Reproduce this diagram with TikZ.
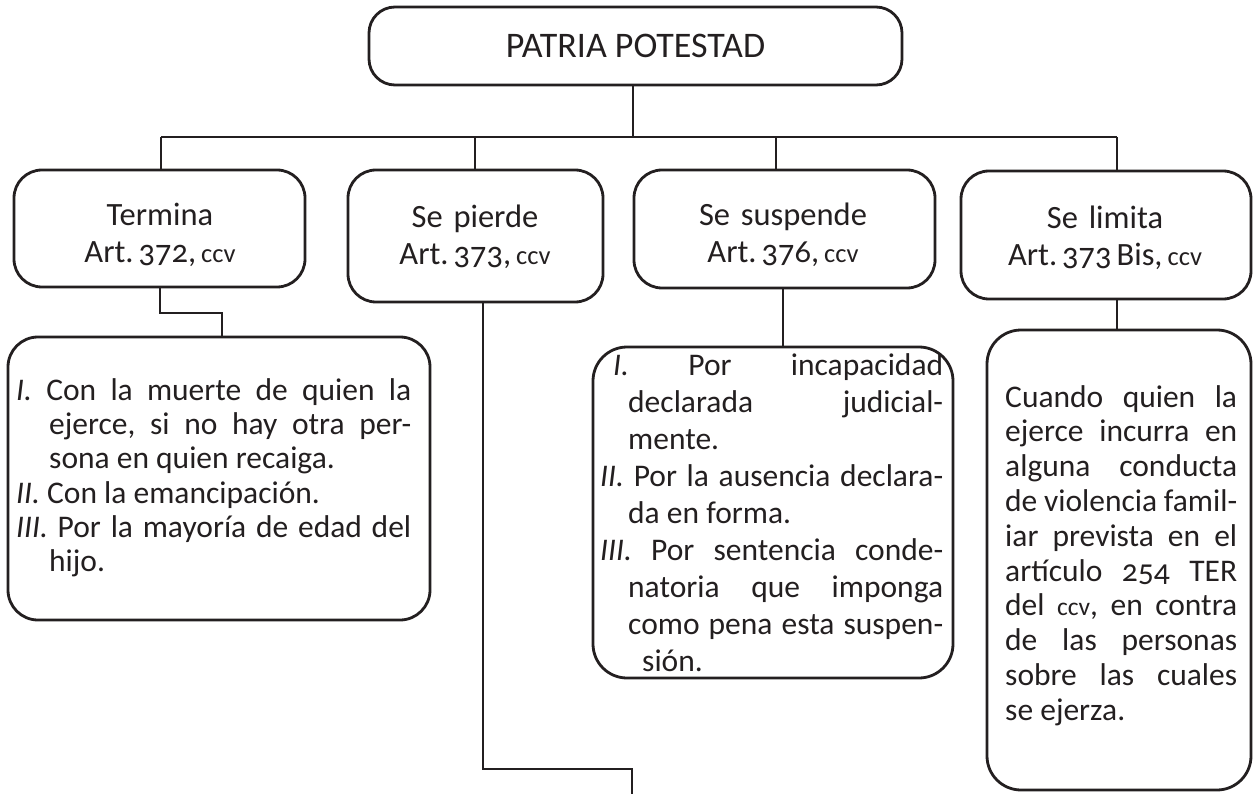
\documentclass[tikz,border=0pt]{standalone}
\usepackage{fontspec}
\setmainfont{Carlito}[Numbers=OldStyle]
\frenchspacing
\definecolor{ink}{HTML}{231F20}
\tikzset{
  rbox/.style={draw=ink, line width=2.8pt, rounded corners=#1, inner sep=0pt},
  conn/.style={draw=ink, line width=2.8pt},
  htext/.style={anchor=north, inner sep=0pt, text width=285pt, align=center, text=ink,
    font=\fontsize{32.5}{37}\selectfont},
  dtext/.style={anchor=north west, inner sep=0pt, text=ink, align=justify}
}
\newcommand\sccv{{\fontsize{26.5}{30}\selectfont ccv}}
\newcommand\hsp{\hspace{5pt}}
\newcommand\hng[1]{\hangindent=#1\hangafter=1\relax}
\begin{document}
\begin{tikzpicture}[x=1pt,y=-1pt]
\useasboundingbox (0,0) rectangle (1253,794);
% title
\node[rbox=26pt, minimum width=533pt, minimum height=78pt, text=ink,
  font=\fontsize{36}{40}\selectfont] (top) at (635.5,46) {PATRIA POTESTAD};
% header boxes
\node[rbox=28pt, minimum width=291pt, minimum height=117pt] (b1) at (159.5,228.5) {};
\node[rbox=28pt, minimum width=255pt, minimum height=132pt] (b2) at (475.5,236) {};
\node[rbox=28pt, minimum width=301pt, minimum height=118pt] (b3) at (784.5,229) {};
\node[rbox=28pt, minimum width=290pt, minimum height=128pt] (b4) at (1106,235) {};
\node[htext] (t1) at (160,199) {\strut Termina\\Art.\hsp372,\hsp\sccv};
\node[htext] (t2) at (475,201) {\strut Se pierde\\Art.\hsp373,\hsp\sccv};
\node[htext] (t3) at (783,199) {\strut Se suspende\\Art.\hsp376,\hsp\sccv};
\node[htext] (t4) at (1105,202) {\strut Se limita\\Art.\hsp373\hsp Bis,\hsp\sccv};
% detail boxes
\node[rbox=30pt, minimum width=422pt, minimum height=283pt] (d1) at (219,478.5) {};
\node[rbox=34pt, minimum width=360pt, minimum height=331pt] (d3) at (773,512.5) {};
\node[rbox=34pt, minimum width=264pt, minimum height=460pt] (d4) at (1119,560) {};
\node[dtext, text width=395pt, font=\fontsize{31.5}{34.3}\selectfont] (x1) at (16,376) {%
\setlength{\parindent}{0pt}%
\strut\textit{I.} Con la muerte de quien la\linebreak ejerce, si no hay otra per-\linebreak sona en quien recaiga.\hng{33pt}\par
\textit{II.} Con la emancipación.\hng{33pt}\par
\textit{III.} Por la mayoría de edad del\linebreak hijo.\hng{33pt}\par};
\node[dtext, text width=343pt, font=\fontsize{31.5}{37}\selectfont] (x3) at (600,349.6) {%
\setlength{\parindent}{0pt}%
\strut\hspace*{13pt}\textit{I.} Por incapacidad\linebreak declarada judicial-\linebreak mente.\hng{28pt}\par
\textit{II.} Por la ausencia declara-\linebreak da en forma.\hng{28pt}\par
\textit{III.} Por sentencia conde-\linebreak natoria que imponga\linebreak como pena esta suspen-\linebreak \hspace*{14pt}sión.\hng{28pt}\par};
\node[dtext, text width=232pt, font=\fontsize{31.5}{34.8}\selectfont] (x4) at (1005,382.6) {%
\setlength{\parindent}{0pt}%
\strut Cuando quien la\linebreak ejerce incurra en\linebreak alguna conducta\linebreak de violencia famil-\linebreak iar prevista en el\linebreak artículo 254 TER\linebreak del {\fontsize{25.5}{30}\selectfont ccv}, en contra\linebreak de las personas\linebreak sobre las cuales\linebreak se ejerza.\par};
% junctions
\coordinate (jt) at (633,137);
\coordinate (j1) at (161,137);
\coordinate (j2) at (475,137);
\coordinate (j3) at (776,137);
\coordinate (j4) at (1117,137);
\draw[conn] (top.south -| jt) -- (jt);
\draw[conn] (j1) -- (j4);
\draw[conn] (j1) -- (b1.north -| j1);
\draw[conn] (j2) -- (b2.north -| j2);
\draw[conn] (j3) -- (b3.north -| j3);
\draw[conn] (j4) -- (b4.north -| j4);
% termina -> detail
\coordinate (k1) at (160,313);
\coordinate (k2) at (222,313);
\draw[conn] (b1.south -| k1) -- (k1) -- (k2) -- (d1.north -| k2);
% se pierde -> down
\coordinate (p1) at (483,769);
\coordinate (p2) at (632,769);
\coordinate (pend) at (632,800);
\draw[conn] (b2.south -| p1) -- (p1) -- (p2) -- (pend);
% se suspende -> detail
\coordinate (s1) at (783,300);
\draw[conn] (b3.south -| s1) -- (d3.north -| s1);
% se limita -> detail
\coordinate (l1) at (1117,300);
\draw[conn] (b4.south -| l1) -- (d4.north -| l1);
\end{tikzpicture}
\end{document}
